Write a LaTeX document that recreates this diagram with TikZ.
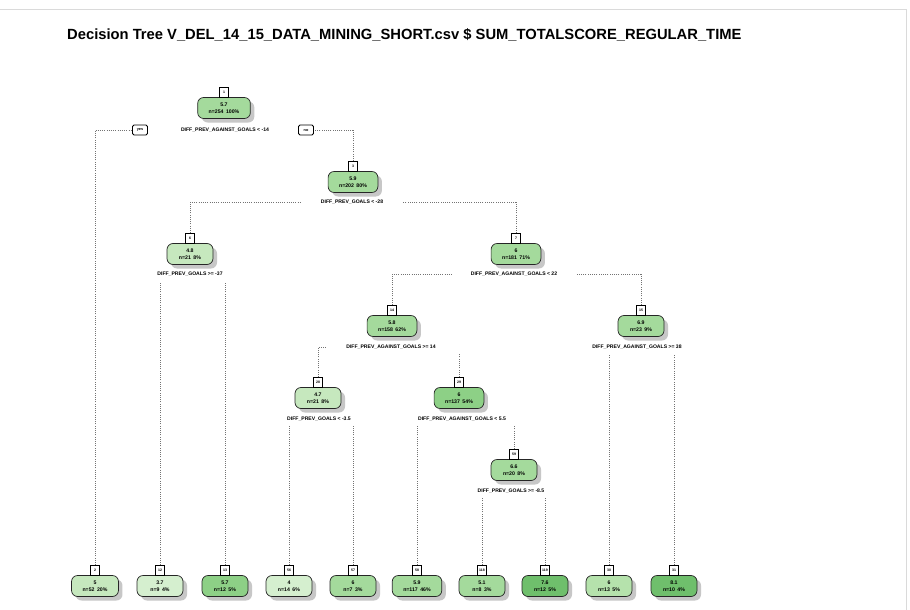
\documentclass[tikz,border=0pt]{standalone}
\usepackage{fontspec}
\setmainfont{Liberation Sans}
\usetikzlibrary{shadows}
\definecolor{gA}{HTML}{D5EFCF}
\definecolor{gB}{HTML}{C6E8BE}
\definecolor{gC}{HTML}{A4DA9C}
\definecolor{gD}{HTML}{8DD086}
\definecolor{gE}{HTML}{6FBF6C}
\definecolor{gF}{HTML}{B5E2AC}
\definecolor{framegray}{HTML}{DADADA}
\newcommand{\gsp}{\hspace{2.5pt}}
\begin{document}
\begin{tikzpicture}[x=1pt,y=-1pt,
  tnode/.style={draw=black!85, line width=0.7pt, rounded corners=6pt, minimum width=46pt, minimum height=21pt,
    inner xsep=11pt, inner ysep=2pt, align=center, font=\fontsize{5.2}{7}\selectfont\bfseries,
    drop shadow={shadow xshift=4pt, shadow yshift=-4pt, fill=black!22, opacity=1}},
  numbox/.style={draw=black, fill=white, line width=0.6pt, minimum width=8.5pt, minimum height=9.5pt,
    inner sep=1pt, font=\fontsize{3.5}{4}\selectfont\bfseries, anchor=south},
  ynbox/.style={draw=black, fill=white, line width=0.9pt, rounded corners=1.5pt, minimum width=15pt,
    minimum height=10pt, inner sep=1pt, font=\fontsize{3.8}{4}\selectfont\bfseries},
  split/.style={font=\fontsize{5.1}{6}\selectfont\bfseries, inner xsep=19pt, inner ysep=2pt},
  conn/.style={draw=black!55, line width=0.8pt, dash pattern=on 0.9pt off 1.3pt},
  vconn/.style={conn, shorten >=3pt},
  titlestyle/.style={font=\fontsize{14.75}{17}\selectfont\bfseries, anchor=west, inner sep=0pt}
]
\useasboundingbox (0,0) rectangle (910,610);
\fill[white] (0,0) rectangle (910,610);
\draw[framegray, line width=0.8pt] (0,9) -- (906,9) -- (906,610);

\node[titlestyle] (title) at (67,35) {Decision Tree V\_DEL\_14\_15\_DATA\_MINING\_SHORT.csv \$ SUM\_TOTALSCORE\_REGULAR\_TIME};

% internal nodes
\node[tnode, fill=gC] (m1) at (224,108) {5.7\\n=254\gsp 100\%};
\node[numbox] (n1) at (m1.north) {1};
\node[split] (s1) at (225,130) {DIFF\_PREV\_AGAINST\_GOALS < -14};
\node[ynbox] (yes) at (140,130) {yes};
\node[ynbox] (no) at (306,130) {no};

\node[tnode, fill=gC] (m3) at (353,182) {5.9\\n=202\gsp 80\%};
\node[numbox] (n3) at (m3.north) {3};
\node[split] (s3) at (352,202) {DIFF\_PREV\_GOALS < -28};

\node[tnode, fill=gB] (m6) at (190,254) {4.8\\n=21\gsp 8\%};
\node[numbox] (n6) at (m6.north) {6};
\node[split] (s6) at (190,274) {DIFF\_PREV\_GOALS >= -37};

\node[tnode, fill=gC] (m7) at (516,254) {6\\n=181\gsp 71\%};
\node[numbox] (n7) at (m7.north) {7};
\node[split] (s7) at (514,274) {DIFF\_PREV\_AGAINST\_GOALS < 22};

\node[tnode, fill=gC] (m14) at (392,326) {5.8\\n=158\gsp 62\%};
\node[numbox] (n14) at (m14.north) {14};
\node[split] (s14) at (391,347) {DIFF\_PREV\_AGAINST\_GOALS >= 14};

\node[tnode, fill=gC] (m15) at (641,326) {6.9\\n=23\gsp 9\%};
\node[numbox] (n15) at (m15.north) {15};
\node[split] (s15) at (637,347) {DIFF\_PREV\_AGAINST\_GOALS >= 38};

\node[tnode, fill=gB] (m28) at (318,398) {4.7\\n=21\gsp 8\%};
\node[numbox] (n28) at (m28.north) {28};
\node[split] (s28) at (319,419) {DIFF\_PREV\_GOALS < -3.5};

\node[tnode, fill=gD] (m29) at (459,398) {6\\n=137\gsp 54\%};
\node[numbox] (n29) at (m29.north) {29};
\node[split] (s29) at (462,419) {DIFF\_PREV\_AGAINST\_GOALS < 5.5};

\node[tnode, fill=gC] (m59) at (514,470) {6.6\\n=20\gsp 8\%};
\node[numbox] (n59) at (m59.north) {59};
\node[split] (s59) at (511,491) {DIFF\_PREV\_GOALS >= -8.5};

% leaves
\node[tnode, fill=gB] (m2) at (95,586) {5\\n=52\gsp 20\%};
\node[numbox] (n2) at (m2.north) {2};
\node[tnode, fill=gA] (m12) at (160,586) {3.7\\n=9\gsp 4\%};
\node[numbox] (n12) at (m12.north) {12};
\node[tnode, fill=gD] (m13) at (225,586) {5.7\\n=12\gsp 5\%};
\node[numbox] (n13) at (m13.north) {13};
\node[tnode, fill=gA] (m56) at (289,586) {4\\n=14\gsp 6\%};
\node[numbox] (n56) at (m56.north) {56};
\node[tnode, fill=gC] (m57) at (353,586) {6\\n=7\gsp 3\%};
\node[numbox] (n57) at (m57.north) {57};
\node[tnode, fill=gC] (m58) at (417,586) {5.9\\n=117\gsp 46\%};
\node[numbox] (n58) at (m58.north) {58};
\node[tnode, fill=gC] (m118) at (482,586) {5.1\\n=8\gsp 3\%};
\node[numbox] (n118) at (m118.north) {118};
\node[tnode, fill=gE] (m119) at (545,586) {7.6\\n=12\gsp 5\%};
\node[numbox] (n119) at (m119.north) {119};
\node[tnode, fill=gF] (m30) at (609,586) {6\\n=13\gsp 5\%};
\node[numbox] (n30) at (m30.north) {30};
\node[tnode, fill=gE] (m31) at (674,586) {8.1\\n=10\gsp 4\%};
\node[numbox] (n31) at (m31.north) {31};

% connectors
\draw[conn] (n2.north) |- (yes);
\draw[conn] (n3.north) |- (no);
\draw[conn] (n6.north) |- (s3);
\draw[conn] (n7.north) |- (s3);
\draw[vconn] (n12.north) -- (n12.north |- s6.south);
\draw[vconn] (n13.north) -- (n13.north |- s6.south);
\draw[conn] (n14.north) |- (s7);
\draw[conn] (n15.north) |- (s7);
\draw[conn] (n28.north) |- (s14);
\draw[vconn] (n29.north) -- (n29.north |- s14.south);
\draw[vconn] (n30.north) -- (n30.north |- s15.south);
\draw[vconn] (n31.north) -- (n31.north |- s15.south);
\draw[vconn] (n56.north) -- (n56.north |- s28.south);
\draw[vconn] (n57.north) -- (n57.north |- s28.south);
\draw[vconn] (n58.north) -- (n58.north |- s29.south);
\draw[vconn] (n59.north) -- (n59.north |- s29.south);
\draw[vconn] (n118.north) -- (n118.north |- s59.south);
\draw[vconn] (n119.north) -- (n119.north |- s59.south);
\end{tikzpicture}
\end{document}
